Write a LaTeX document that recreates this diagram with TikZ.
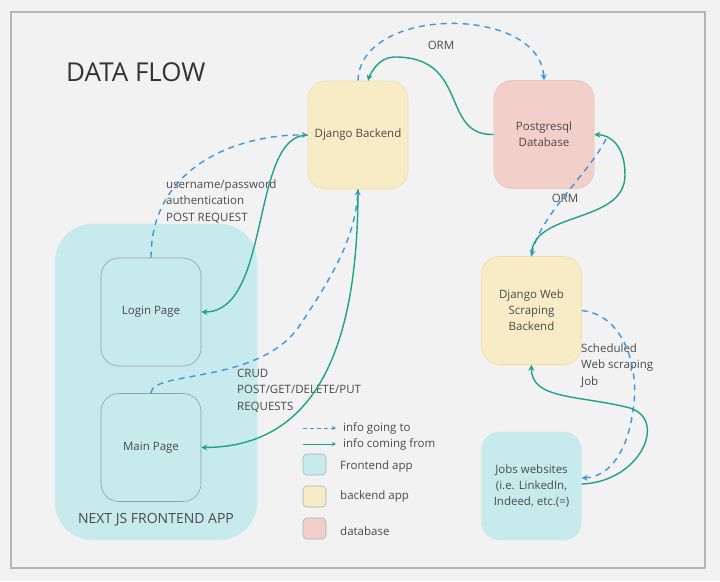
\documentclass[tikz,border=0pt]{standalone}
\usepackage{fontspec}
\setmainfont{Open Sans}
\usetikzlibrary{arrows.meta}
\definecolor{bg}{HTML}{F2F2F2}
\definecolor{framec}{HTML}{B5B5B5}
\definecolor{feC}{HTML}{C7EAEC}
\definecolor{feD}{HTML}{8EA3A4}
\definecolor{beC}{HTML}{F7ECC5}
\definecolor{beD}{HTML}{EEDFA6}
\definecolor{dbC}{HTML}{F2CFC8}
\definecolor{dbD}{HTML}{ECC2BA}
\definecolor{goC}{HTML}{3C97DE}
\definecolor{coC}{HTML}{1FA383}
\definecolor{txt}{HTML}{4A4A4A}
\tikzset{
  box/.style={rounded corners=18pt, minimum width=100pt, minimum height=108pt,
    inner sep=0pt, align=center, text=txt, font=\fontsize{11.5}{16}\selectfont},
  bebox/.style={box, fill=beC, draw=beD, line width=0.6pt},
  dbbox/.style={box, fill=dbC, draw=dbD, line width=0.6pt},
  febox/.style={box, fill=feC, draw=feC},
  pagebox/.style={box, fill=feC, draw=feD, line width=0.6pt},
  lbl/.style={text=txt, font=\fontsize{11.5}{16.5}\selectfont, inner sep=0pt, align=left},
  going/.style={draw=goC, line width=1.4pt, dash pattern=on 6pt off 5pt,
    -{Stealth[length=6pt,width=6pt]}},
  coming/.style={draw=coC, line width=1.4pt, -{Stealth[length=6pt,width=6pt]}},
  legsq/.style={rounded corners=4pt, minimum width=23pt, minimum height=21pt,
    inner sep=0pt, draw=feD!80, line width=0.6pt},
}
\begin{document}
\begin{tikzpicture}[x=1pt,y=-1pt]
\fill[bg] (0,0) rectangle (720,581);
\useasboundingbox (0,0) rectangle (720,581);
\draw[framec, line width=1.5pt] (11,12) rectangle (705,568);

\node[lbl, anchor=west, text=black!80, font=\fontsize{26}{30}\selectfont] (title) at (66,72) {DATA FLOW};

% frontend container
\node[febox, rounded corners=38pt, minimum width=202pt, minimum height=316pt] (fe) at (156,382) {};
\node[lbl, font=\fontsize{14}{17}\selectfont] (felabel) at (156,520) {NEXT JS FRONTEND APP};

\node[pagebox] (login) at (151,312) {Login Page};
\node[pagebox] (main) at (151,447.5) {Main Page};

\node[bebox] (django) at (358,135) {Django Backend};
\node[dbbox] (pg) at (544,134.5) {Postgresql\\Database};
\node[bebox] (scrape) at (531.5,310.5) {Django Web\\Scraping\\Backend};
\node[febox] (jobs) at (531.5,486) {Jobs websites\\(i.e. LinkedIn,\\Indeed, etc.(=)};

% labels
\node[lbl, anchor=west] (l1) at (166,201.5) {username/password\\authentication\\POST REQUEST};
\node[lbl, anchor=west] (l2) at (237,390.5) {CRUD\\POST/GET/DELETE/PUT\\REQUESTS};
\node[lbl] (orm1) at (441,45) {ORM};
\node[lbl] (orm2) at (565,198) {ORM};
\node[lbl, anchor=west] (l3) at (581,365.5) {Scheduled\\Web scraping\\Job};

% login <-> django
\draw[going] (login.north) .. controls (151,165) and (240,134) .. (django.west);
\draw[coming] (django.west) .. controls (250,134) and (272,312) .. (login.east);

% main <-> django
\draw[going] (main.north) .. controls (151,370) and (260,385) .. (300,325)
  .. controls (330,280) and (355,240) .. (django.south);
\draw[coming] (django.south) .. controls (358,320) and (330,447) .. (main.east);

% django <-> postgres
\draw[going] (django.north) .. controls (360,5) and (540,5) .. (pg.north);
\draw[coming] (pg.west) .. controls (440,136) and (470,57) .. (395,57)
  .. controls (375,57) and ([xshift=10pt]django.north) .. ([xshift=10pt]django.north);

% postgres <-> scraping
\coordinate (pgr) at (606,139);
\draw[going] (pgr) .. controls (590,172) and (540,215) .. (scrape.north);
\draw[coming] (scrape.north) .. controls (530,210) and (625,225) .. (625,175)
  .. controls (625,145) and (610,135) .. (pg.east);

% scraping <-> jobs
\draw[going] (scrape.east) .. controls (625,315) and (640,370) .. (633,410)
  .. controls (628,450) and (610,477) .. ([yshift=8pt]jobs.east);
\draw[coming] ([yshift=2pt]jobs.east) .. controls (640,482) and (668,420) .. (630,408)
  .. controls (580,395) and (531,400) .. (scrape.south);

% legend
\coordinate (g1) at (303,428); \coordinate (g2) at (336,428);
\coordinate (c1) at (303,444); \coordinate (c2) at (336,444);
\draw[draw=goC, line width=1pt, dash pattern=on 4pt off 3pt, -{Stealth[length=4pt,width=4pt]}] (g1) -- (g2);
\draw[draw=coC, line width=1pt, -{Stealth[length=4pt,width=4pt]}] (c1) -- (c2);
\node[lbl, anchor=west] (lg1) at (343,428) {info going to};
\node[lbl, anchor=west] (lg2) at (343,444) {info coming from};
\node[legsq, fill=feC] (sq1) at (314.5,464.5) {};
\node[legsq, fill=beC] (sq2) at (314.5,496.5) {};
\node[legsq, fill=dbC] (sq3) at (314.5,528.5) {};
\node[lbl, anchor=west] (lg3) at (340,467) {Frontend app};
\node[lbl, anchor=west] (lg4) at (340,497) {backend app};
\node[lbl, anchor=west] (lg5) at (340,531) {database};
\end{tikzpicture}
\end{document}
